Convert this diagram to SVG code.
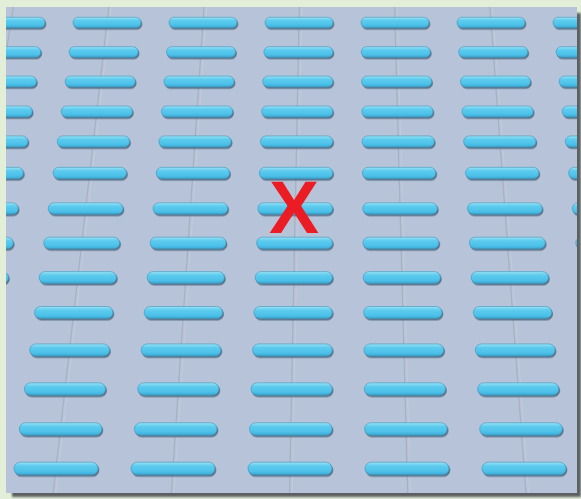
<svg xmlns="http://www.w3.org/2000/svg" width="581" height="499" viewBox="0 0 581 499">
<defs>
<linearGradient id="barGrad" x1="0" y1="0" x2="0" y2="1">
<stop offset="0" stop-color="#9ae3f6"/>
<stop offset="0.3" stop-color="#5dcbee"/>
<stop offset="0.75" stop-color="#4cc0e8"/>
<stop offset="1" stop-color="#3aa6d0"/>
</linearGradient>
<filter id="sh" x="-10%" y="-50%" width="120%" height="220%">
<feDropShadow dx="1" dy="1.6" stdDeviation="0.7" flood-color="#4d6a80" flood-opacity="0.9"/>
</filter>
<filter id="panelSh" x="-5%" y="-5%" width="110%" height="110%">
<feGaussianBlur stdDeviation="1"/>
</filter>
<clipPath id="panelClip"><rect x="6" y="7" width="571" height="486"/></clipPath>
<style>
.bar{fill:url(#barGrad);stroke:#3f93b8;stroke-width:0.6;filter:url(#sh)}
.rung{stroke:#8e9299;stroke-width:1.2;stroke-opacity:0.38;fill:none}
.rung2{stroke:#d4d6d8;stroke-width:1;stroke-opacity:0.4;fill:none}
.mark{font-family:"Liberation Sans",Arial,sans-serif;font-weight:bold;font-size:75px;fill:#ec1c24;text-anchor:middle}
</style>
</defs>
<rect x="0" y="0" width="581" height="499" fill="#e3eed8"/>
<rect x="12" y="13" width="569" height="484" fill="#5c6062" filter="url(#panelSh)"/>
<rect x="6" y="7" width="571" height="486" fill="#b6c3d9"/>
<g id="scene" clip-path="url(#panelClip)">
<g id="rungs">
<line class="rung" x1="13.4" y1="7" x2="-65.1" y2="493"/>
<line class="rung" x1="108.7" y1="7" x2="53.1" y2="493"/>
<line class="rung" x1="204" y1="7" x2="171.3" y2="493"/>
<line class="rung" x1="299.3" y1="7" x2="289.5" y2="493"/>
<line class="rung" x1="394.6" y1="7" x2="407.7" y2="493"/>
<line class="rung" x1="489.9" y1="7" x2="525.9" y2="493"/>
<line class="rung2" x1="111.2" y1="7" x2="55.8" y2="493"/>
<line class="rung2" x1="206.5" y1="7" x2="174" y2="493"/>
<line class="rung2" x1="301.8" y1="7" x2="292.2" y2="493"/>
<line class="rung2" x1="397.1" y1="7" x2="410.4" y2="493"/>
<line class="rung2" x1="492.4" y1="7" x2="528.6" y2="493"/>
</g>
<g id="bars">
<g id="row1"><rect class="bar" x="-23" y="17.25" width="68" height="10.5" rx="5.25"/><rect class="bar" x="73" y="17.25" width="68" height="10.5" rx="5.25"/><rect class="bar" x="169" y="17.25" width="68" height="10.5" rx="5.25"/><rect class="bar" x="265" y="17.25" width="68" height="10.5" rx="5.25"/><rect class="bar" x="361" y="17.25" width="68" height="10.5" rx="5.25"/><rect class="bar" x="457" y="17.25" width="68" height="10.5" rx="5.25"/><rect class="bar" x="553" y="17.25" width="68" height="10.5" rx="5.25"/></g>
<g id="row2"><rect class="bar" x="-28.35" y="46.7" width="69.1" height="10.6" rx="5.3"/><rect class="bar" x="69.05" y="46.7" width="69.1" height="10.6" rx="5.3"/><rect class="bar" x="166.45" y="46.7" width="69.1" height="10.6" rx="5.3"/><rect class="bar" x="263.85" y="46.7" width="69.1" height="10.6" rx="5.3"/><rect class="bar" x="361.25" y="46.7" width="69.1" height="10.6" rx="5.3"/><rect class="bar" x="458.65" y="46.7" width="69.1" height="10.6" rx="5.3"/><rect class="bar" x="556.05" y="46.7" width="69.1" height="10.6" rx="5.3"/></g>
<g id="row3"><rect class="bar" x="-33.65" y="76.1" width="70.1" height="10.8" rx="5.4"/><rect class="bar" x="65.15" y="76.1" width="70.1" height="10.8" rx="5.4"/><rect class="bar" x="163.95" y="76.1" width="70.1" height="10.8" rx="5.4"/><rect class="bar" x="262.75" y="76.1" width="70.1" height="10.8" rx="5.4"/><rect class="bar" x="361.55" y="76.1" width="70.1" height="10.8" rx="5.4"/><rect class="bar" x="460.35" y="76.1" width="70.1" height="10.8" rx="5.4"/><rect class="bar" x="559.15" y="76.1" width="70.1" height="10.8" rx="5.4"/></g>
<g id="row4"><rect class="bar" x="-39" y="106" width="71.2" height="11" rx="5.5"/><rect class="bar" x="61.2" y="106" width="71.2" height="11" rx="5.5"/><rect class="bar" x="161.4" y="106" width="71.2" height="11" rx="5.5"/><rect class="bar" x="261.6" y="106" width="71.2" height="11" rx="5.5"/><rect class="bar" x="361.8" y="106" width="71.2" height="11" rx="5.5"/><rect class="bar" x="462" y="106" width="71.2" height="11" rx="5.5"/><rect class="bar" x="562.2" y="106" width="71.2" height="11" rx="5.5"/></g>
<g id="row5"><rect class="bar" x="-44.35" y="135.95" width="72.3" height="11.1" rx="5.55"/><rect class="bar" x="57.25" y="135.95" width="72.3" height="11.1" rx="5.55"/><rect class="bar" x="158.85" y="135.95" width="72.3" height="11.1" rx="5.55"/><rect class="bar" x="260.45" y="135.95" width="72.3" height="11.1" rx="5.55"/><rect class="bar" x="362.05" y="135.95" width="72.3" height="11.1" rx="5.55"/><rect class="bar" x="463.65" y="135.95" width="72.3" height="11.1" rx="5.55"/><rect class="bar" x="565.25" y="135.95" width="72.3" height="11.1" rx="5.55"/></g>
<g id="row6"><rect class="bar" x="-50" y="167.35" width="73.4" height="11.3" rx="5.65"/><rect class="bar" x="53.1" y="167.35" width="73.4" height="11.3" rx="5.65"/><rect class="bar" x="156.2" y="167.35" width="73.4" height="11.3" rx="5.65"/><rect class="bar" x="259.3" y="167.35" width="73.4" height="11.3" rx="5.65"/><rect class="bar" x="362.4" y="167.35" width="73.4" height="11.3" rx="5.65"/><rect class="bar" x="465.5" y="167.35" width="73.4" height="11.3" rx="5.65"/><rect class="bar" x="568.6" y="167.35" width="73.4" height="11.3" rx="5.65"/></g>
<g id="row7"><rect class="bar" x="-56.55" y="202.8" width="74.7" height="11.4" rx="5.7"/><rect class="bar" x="48.25" y="202.8" width="74.7" height="11.4" rx="5.7"/><rect class="bar" x="153.05" y="202.8" width="74.7" height="11.4" rx="5.7"/><rect class="bar" x="257.85" y="202.8" width="74.7" height="11.4" rx="5.7"/><rect class="bar" x="362.65" y="202.8" width="74.7" height="11.4" rx="5.7"/><rect class="bar" x="467.45" y="202.8" width="74.7" height="11.4" rx="5.7"/><rect class="bar" x="572.25" y="202.8" width="74.7" height="11.4" rx="5.7"/></g>
<g id="row8"><rect class="bar" x="-62.65" y="237.2" width="75.9" height="11.6" rx="5.8"/><rect class="bar" x="43.75" y="237.2" width="75.9" height="11.6" rx="5.8"/><rect class="bar" x="150.15" y="237.2" width="75.9" height="11.6" rx="5.8"/><rect class="bar" x="256.55" y="237.2" width="75.9" height="11.6" rx="5.8"/><rect class="bar" x="362.95" y="237.2" width="75.9" height="11.6" rx="5.8"/><rect class="bar" x="469.35" y="237.2" width="75.9" height="11.6" rx="5.8"/><rect class="bar" x="575.75" y="237.2" width="75.9" height="11.6" rx="5.8"/></g>
<g id="row9"><rect class="bar" x="-68.8" y="271.6" width="77.2" height="11.8" rx="5.9"/><rect class="bar" x="39.2" y="271.6" width="77.2" height="11.8" rx="5.9"/><rect class="bar" x="147.2" y="271.6" width="77.2" height="11.8" rx="5.9"/><rect class="bar" x="255.2" y="271.6" width="77.2" height="11.8" rx="5.9"/><rect class="bar" x="363.2" y="271.6" width="77.2" height="11.8" rx="5.9"/><rect class="bar" x="471.2" y="271.6" width="77.2" height="11.8" rx="5.9"/></g>
<g id="row10"><rect class="bar" x="34.5" y="306.5" width="78.4" height="12" rx="6"/><rect class="bar" x="144.2" y="306.5" width="78.4" height="12" rx="6"/><rect class="bar" x="253.9" y="306.5" width="78.4" height="12" rx="6"/><rect class="bar" x="363.6" y="306.5" width="78.4" height="12" rx="6"/><rect class="bar" x="473.3" y="306.5" width="78.4" height="12" rx="6"/></g>
<g id="row11"><rect class="bar" x="29.7" y="343.95" width="79.8" height="12.1" rx="6.05"/><rect class="bar" x="141.1" y="343.95" width="79.8" height="12.1" rx="6.05"/><rect class="bar" x="252.5" y="343.95" width="79.8" height="12.1" rx="6.05"/><rect class="bar" x="363.9" y="343.95" width="79.8" height="12.1" rx="6.05"/><rect class="bar" x="475.3" y="343.95" width="79.8" height="12.1" rx="6.05"/></g>
<g id="row12"><rect class="bar" x="24.4" y="382.85" width="81.2" height="12.3" rx="6.15"/><rect class="bar" x="137.7" y="382.85" width="81.2" height="12.3" rx="6.15"/><rect class="bar" x="251" y="382.85" width="81.2" height="12.3" rx="6.15"/><rect class="bar" x="364.3" y="382.85" width="81.2" height="12.3" rx="6.15"/><rect class="bar" x="477.6" y="382.85" width="81.2" height="12.3" rx="6.15"/></g>
<g id="row13"><rect class="bar" x="19.3" y="422.75" width="82.6" height="12.5" rx="6.25"/><rect class="bar" x="134.4" y="422.75" width="82.6" height="12.5" rx="6.25"/><rect class="bar" x="249.5" y="422.75" width="82.6" height="12.5" rx="6.25"/><rect class="bar" x="364.6" y="422.75" width="82.6" height="12.5" rx="6.25"/><rect class="bar" x="479.7" y="422.75" width="82.6" height="12.5" rx="6.25"/></g>
<g id="row14"><rect class="bar" x="14" y="462.15" width="84" height="12.7" rx="6.35"/><rect class="bar" x="131" y="462.15" width="84" height="12.7" rx="6.35"/><rect class="bar" x="248" y="462.15" width="84" height="12.7" rx="6.35"/><rect class="bar" x="365" y="462.15" width="84" height="12.7" rx="6.35"/><rect class="bar" x="482" y="462.15" width="84" height="12.7" rx="6.35"/></g>
</g>
</g>
<g id="marker-x"><text class="mark" x="294" y="233">X</text></g>
</svg>
